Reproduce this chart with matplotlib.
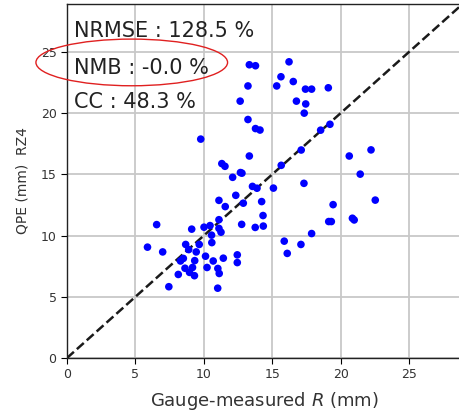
import matplotlib
matplotlib.use("Agg")
import matplotlib.pyplot as plt
from matplotlib.patches import Ellipse

# Gauge-measured rainfall (x) and radar QPE (y), mm
gauge_mm = [
    13.32, 13.77, 16.22, 13.22, 15.63, 15.32, 16.53, 17.42, 17.87, 19.09,
    12.65, 16.76, 17.44, 17.33, 13.22, 13.77, 14.10, 18.53, 19.21, 9.77,
    17.11, 13.32, 20.62, 22.21, 15.65, 11.31, 11.54, 12.67, 12.78, 12.10,
    21.42, 13.55, 13.88, 15.08, 17.31, 12.33, 11.10, 12.88, 14.22, 19.44,
    22.52, 11.56, 14.32, 11.10, 6.55, 12.76, 13.75, 14.34, 19.12, 19.31,
    20.85, 20.98, 10.01, 10.45, 9.11, 11.10, 11.25, 10.56, 17.87, 15.87,
    17.09, 16.09, 12.44, 12.44, 10.58, 9.66, 5.88, 8.67, 8.89, 6.99,
    9.44, 10.12, 11.42, 8.50, 8.29, 9.33, 10.68, 8.62, 9.17, 10.23,
    11.02, 11.12, 8.13, 8.95, 9.31, 7.44, 11.01,
]
qpe_mm = [
    23.94, 23.86, 24.18, 22.21, 22.96, 22.21, 22.57, 21.95, 21.95, 22.06,
    20.97, 20.97, 20.74, 19.99, 19.47, 18.73, 18.61, 18.60, 19.08, 17.87,
    16.98, 16.49, 16.49, 16.99, 15.73, 15.87, 15.65, 15.14, 15.09, 14.75,
    15.01, 14.01, 13.86, 13.87, 14.26, 13.28, 12.87, 12.64, 12.77, 12.52,
    12.89, 12.36, 11.63, 11.29, 10.89, 10.91, 10.66, 10.77, 11.14, 11.14,
    11.41, 11.27, 10.68, 10.81, 10.52, 10.58, 10.27, 10.03, 10.16, 9.54,
    9.27, 8.54, 8.42, 7.79, 9.42, 9.27, 9.05, 9.27, 8.85, 8.66,
    8.66, 8.31, 8.15, 8.13, 7.92, 7.95, 7.92, 7.33, 7.39, 7.39,
    7.31, 6.90, 6.82, 6.99, 6.72, 5.82, 5.70,
]

stat_lines = ["NRMSE : 128.5 %", "NMB : -0.0 %", "CC : 48.3 %"]
stat_y = [26.66, 23.67, 20.86]
ticks = [0, 5, 10, 15, 20, 25]
axis_max = 28.9

W, H = 460, 415
fig = plt.figure(figsize=(W / 100, H / 100), dpi=100)
left, right, bottom, top = 67, 462.6, 358, 4
ax = fig.add_axes([left / W, (H - bottom) / H, (right - left) / W, (bottom - top) / H])

ax.set_axisbelow(True)
ax.grid(True, color="#c8c8c8", linewidth=1.3)

ax.plot([0, axis_max], [0, axis_max], linestyle="--", color="#1a1a1a",
        linewidth=1.8, zorder=2)
ax.scatter(gauge_mm, qpe_mm, s=30, color="blue", edgecolors="none", zorder=3)

ax.set_xlim(0, axis_max)
ax.set_ylim(0, axis_max)
ax.set_xticks(ticks)
ax.set_yticks(ticks)
ax.tick_params(labelsize=9, colors="#333333", length=4, width=0.8)
ax.tick_params(axis="both", colors="black", labelcolor="#333333")
for side in ("left", "bottom", "top"):
    ax.spines[side].set_color("#222222")
    ax.spines[side].set_linewidth(1.0)
ax.spines["right"].set_visible(False)

ax.set_xlabel("Gauge-measured $R$ (mm)", fontsize=13, color="#333333", labelpad=6)
ax.set_ylabel("QPE (mm)  RZ4", fontsize=10, color="#333333", labelpad=8)

for txt, yv in zip(stat_lines, stat_y):
    ax.text(0.5, yv, txt, fontsize=15, color="#222222", va="center", ha="left",
            zorder=4)

ax.add_patch(Ellipse((4.73, 24.13), 14.0, 3.81, fill=False, edgecolor="#e02020",
                     linewidth=1.0, clip_on=False, zorder=5))

fig.savefig("out.png", dpi=100)
